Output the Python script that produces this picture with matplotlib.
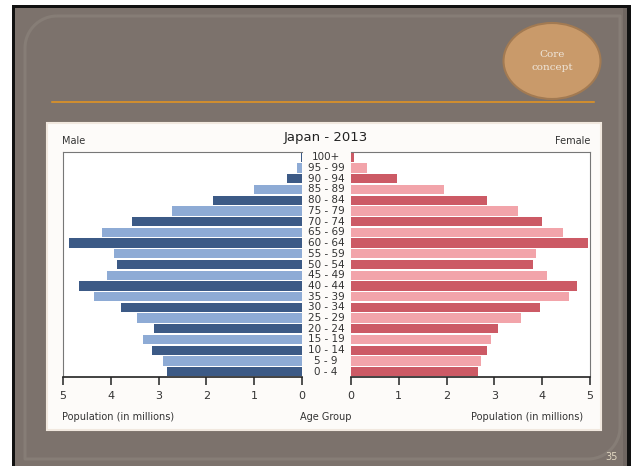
import numpy as np
import matplotlib.pyplot as plt
from matplotlib.patches import Rectangle, Ellipse
from matplotlib.transforms import blended_transform_factory

# dados da pirâmide (milhões), do grupo 0-4 até 100+
grupos = ["0 - 4", "5 - 9", "10 - 14", "15 - 19", "20 - 24", "25 - 29",
          "30 - 34", "35 - 39", "40 - 44", "45 - 49", "50 - 54", "55 - 59",
          "60 - 64", "65 - 69", "70 - 74", "75 - 79", "80 - 84", "85 - 89",
          "90 - 94", "95 - 99", "100+"]
homens = [2.83, 2.91, 3.13, 3.32, 3.10, 3.46, 3.79, 4.36, 4.66, 4.08, 3.87,
          3.93, 4.87, 4.19, 3.55, 2.71, 1.87, 1.00, 0.32, 0.10, 0.03]
mulheres = [2.66, 2.73, 2.84, 2.93, 3.07, 3.56, 3.95, 4.57, 4.73, 4.09, 3.80,
            3.86, 4.95, 4.43, 3.99, 3.50, 2.84, 1.95, 0.96, 0.33, 0.07]
ticks = [0, 1, 2, 3, 4, 5]

W, H = 634, 466
fig = plt.figure(figsize=(W/100, H/100), dpi=100, facecolor="white")

# fundo do slide, em pixels
bg = fig.add_axes([0, 0, 1, 1])
bg.set_xlim(0, W)
bg.set_ylim(H, 0)
bg.axis("off")

bg.add_patch(Rectangle((12, 5), 619, 470, facecolor="#111111", edgecolor="none"))
bg.add_patch(Rectangle((15, 8), 612, 470, facecolor="#7c726c", edgecolor="none"))
bg.add_patch(Rectangle((623, 8), 4, 470, facecolor="#6f6661", edgecolor="none"))

# moldura arredondada clarinha (cantos sup. esq. e inf. dir.)
l, r, t, b, rad = 25, 620, 16, 459, 32
a = np.linspace(0, np.pi/2, 20)
xs = [l + rad, r, r] + list(r - rad + rad*np.cos(a)) + [l, l] + list(l + rad - rad*np.cos(a))
ys = [t, t, b - rad] + list(b - rad + rad*np.sin(a)) + [b, t + rad] + list(t + rad - rad*np.sin(a))
bg.plot(xs, ys, color="#867d76", lw=2.2, solid_capstyle="butt")

# linha laranja e círculo
bg.plot([52, 594], [102, 102], color="#e8961e", lw=1.1)
bg.add_patch(Ellipse((552, 61), 97, 76, facecolor="#c99a6a", edgecolor="#a27a52", lw=1.5))
bg.text(552, 61, "Core\nconcept", ha="center", va="center", fontsize=7.5,
        color="#efe6da", family="DejaVu Serif", linespacing=1.5)
bg.text(612, 457, "35", ha="center", va="center", fontsize=7, color="#e2d8c2")

# painel branco do gráfico
bg.add_patch(Rectangle((47, 123), 554, 307, facecolor="#fdfbf9", edgecolor="#f1e8df", lw=1.5))

bg.text(62, 141, "Male", ha="left", va="center", fontsize=7, color="#333333")
bg.text(590, 141, "Female", ha="right", va="center", fontsize=7, color="#333333")
bg.text(326, 138, "Japan - 2013", ha="center", va="center", fontsize=9.5, color="#222222")
bg.text(62, 417, "Population (in millions)", ha="left", va="center", fontsize=7, color="#333333")
bg.text(326, 417, "Age Group", ha="center", va="center", fontsize=7, color="#333333")
bg.text(583, 417, "Population (in millions)", ha="right", va="center", fontsize=7, color="#333333")

y = np.arange(len(grupos))
cor_h = ["#3c5a86" if i % 2 == 0 else "#8eabd5" for i in y]
cor_m = ["#cc5a65" if i % 2 == 0 else "#f2a4aa" for i in y]

base = 1 - 377/H
alt = 225/H
ax_h = fig.add_axes([63/W, base, 239/W, alt])
ax_m = fig.add_axes([351/W, base, 239/W, alt])

ax_h.barh(y, homens, height=0.86, color=cor_h)
ax_m.barh(y, mulheres, height=0.86, color=cor_m)

for ax in (ax_h, ax_m):
    ax.set_ylim(-0.5, len(grupos) - 0.5)
    ax.set_xlim(0, 5)
    ax.set_yticks([])
    ax.set_xticks(ticks)
    ax.tick_params(axis="x", length=6, width=1.2, pad=4, labelsize=8,
                   colors="#333333")
    for s in ("top", "left", "right"):
        ax.spines[s].set_color("#777777")
        ax.spines[s].set_linewidth(0.8)
    ax.spines["bottom"].set_color("#222222")
    ax.spines["bottom"].set_linewidth(1.2)

ax_h.invert_xaxis()
ax_h.spines["right"].set_visible(False)
ax_m.spines["left"].set_visible(False)

tr = blended_transform_factory(fig.transFigure, ax_h.transData)
for i, g in enumerate(grupos):
    ax_h.text(326/W, i, g, transform=tr, ha="center", va="center",
              fontsize=7.5, color="#333333", clip_on=False)

fig.savefig("out.png", dpi=100)
